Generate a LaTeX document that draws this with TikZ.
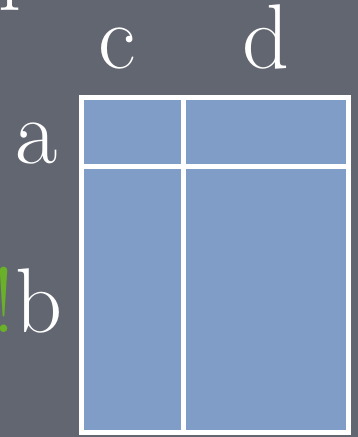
\documentclass[tikz,border=0pt]{standalone}
\definecolor{slate}{RGB}{98,102,113}
\definecolor{cellblue}{RGB}{128,157,199}
\definecolor{bang}{RGB}{106,176,40}
\tikzset{
  lbl/.style={text=white,anchor=base,inner sep=0pt,font=\fontsize{92}{92}\selectfont},
  grid/.style={draw=white,line width=5pt}
}
\begin{document}
\begin{tikzpicture}[x=1pt,y=-1pt]

% Background
\fill[slate] (0,0) rectangle (358,437);
\useasboundingbox (0,0) rectangle (358,437);

% Table
\filldraw[grid,fill=cellblue] (81.5,97.5) rectangle (348.5,432.5);
\draw[grid] (183,97.5) -- (183,432.5);
\draw[grid] (81.5,166.5) -- (348.5,166.5);

% Column labels
\node[lbl] (top) at (22,-8) {p};
\node[lbl] (c) at (117,68) {c};
\node[lbl] (d) at (266,68) {d};

% Row labels
\node[lbl] (a) at (37,163) {a};
\node[lbl] (b) at (39,332) {b};
\node[lbl,anchor=base east,text=bang] (not) at (b.base west) {!};

\end{tikzpicture}
\end{document}
